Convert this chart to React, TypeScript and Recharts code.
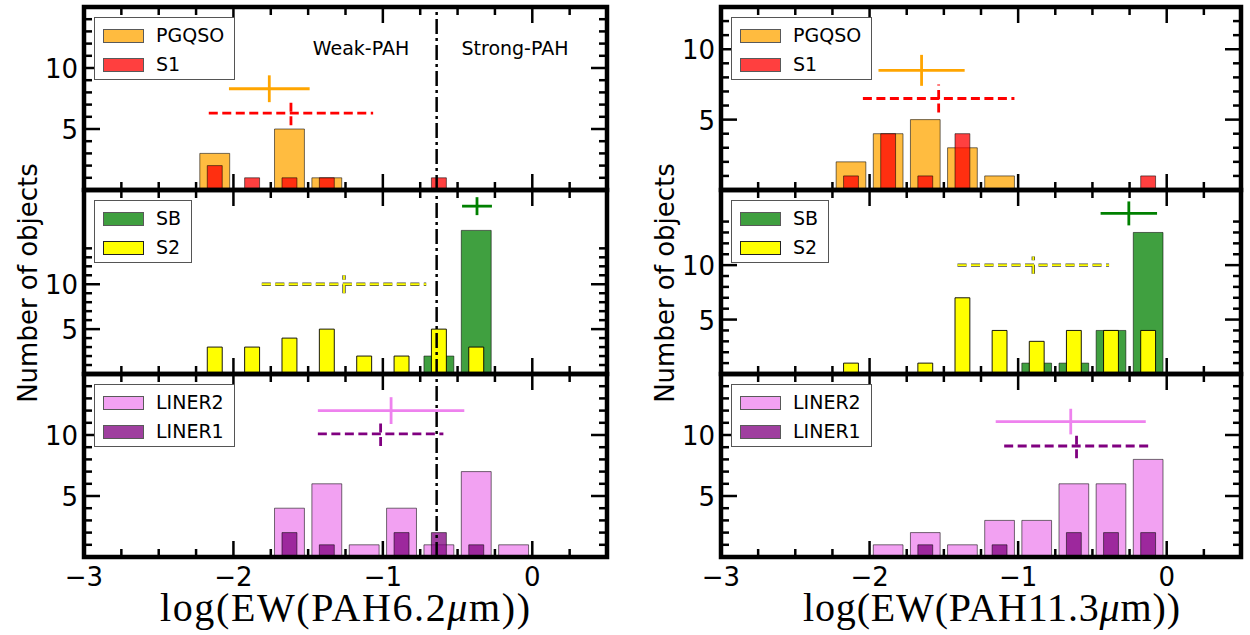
import React from 'react';
import { ComposedChart, XAxis, YAxis, ReferenceArea, ReferenceLine } from 'recharts';

// histogram bin centres, log(EW)
const binCenters = [-2.125, -1.875, -1.625, -1.375, -1.125, -0.875, -0.625, -0.375, -0.125];

// PAH 6.2um counts per bin
const pgqso62 = [3, 0, 5, 1, 0, 0, 0, 0, 0];
const s1_62 = [2, 1, 1, 1, 0, 0, 1, 0, 0];
const sb62 = [0, 0, 0, 0, 0, 0, 2, 16, 0];
const s2_62 = [3, 3, 4, 5, 2, 2, 5, 3, 0];
const liner2_62 = [0, 0, 4, 6, 1, 4, 1, 7, 1];
const liner1_62 = [0, 0, 2, 1, 0, 2, 2, 1, 0];

// PAH 11.3um counts per bin
const pgqso113 = [2, 4, 5, 3, 1, 0, 0, 0, 0];
const s1_113 = [1, 4, 1, 4, 0, 0, 0, 0, 1];
const sb113 = [0, 0, 0, 0, 0, 1, 1, 4, 13];
const s2_113 = [1, 0, 1, 7, 4, 3, 4, 4, 4];
const liner2_113 = [0, 1, 2, 1, 3, 3, 6, 6, 8];
const liner1_113 = [0, 0, 1, 0, 1, 0, 2, 2, 2];

// mean +- spread markers: [x, xErr, y, yErr]
const meanPgqso62 = [-1.76, 0.27, 8.3, 1.1];
const meanS1_62 = [-1.615, 0.55, 6.3, 1.0];
const meanSb62 = [-0.37, 0.1, 18.7, 1.0];
const meanS2_62 = [-1.26, 0.55, 10, 1.0];
const meanLiner2_62 = [-0.945, 0.49, 12.0, 1.1];
const meanLiner1_62 = [-1.015, 0.42, 10.1, 1.0];

const meanPgqso113 = [-1.65, 0.29, 8.5, 1.1];
const meanS1_113 = [-1.535, 0.51, 6.5, 1.0];
const meanSb113 = [-0.255, 0.19, 14.75, 1.1];
const meanS2_113 = [-0.898, 0.51, 10, 0.8];
const meanLiner2_113 = [-0.646, 0.505, 11.1, 1.05];
const meanLiner1_113 = [-0.607, 0.487, 9.1, 1.0];

const weakStrongCut = -0.64;

const xDomain = [-3, 0.5];
const xTicks = [-3, -2.75, -2.5, -2.25, -2, -1.75, -1.5, -1.25, -1, -0.75, -0.5, -0.25, 0, 0.25];
const xLabelTicks = [-3, -2, -1, 0];
const yLabelTicks = [5, 10];
const yMinorTicks = [1, 2, 3, 4, 5, 6, 7, 8, 9, 10, 11, 12, 13, 14];

const SANS = '"DejaVu Sans", sans-serif';

type Series = { name: string; values: number[]; color: string; opacity: number; width: number };
type Mean = { v: number[]; color: string; dashed?: boolean; outline?: boolean };

// tick drawn inward on the axis side, mirrored on the opposite frame side
function renderTick(p: any, side: 'left' | 'bottom', showLabel: boolean, span: number) {
  const value = p.payload.value;
  const major = side === 'left' ? yLabelTicks.includes(value) : xLabelTicks.includes(value);
  const len = major ? 16 : 8;
  const { x, y } = p;
  const sw = 2.5;
  let lines;
  if (side === 'left') {
    lines = (
      <>
        <line x1={x} y1={y} x2={x + len} y2={y} stroke="#000" strokeWidth={sw} />
        <line x1={x + span} y1={y} x2={x + span - len} y2={y} stroke="#000" strokeWidth={sw} />
      </>
    );
  } else {
    lines = (
      <>
        <line x1={x} y1={y} x2={x} y2={y - len} stroke="#000" strokeWidth={sw} />
        <line x1={x} y1={y - span} x2={x} y2={y - span + len} stroke="#000" strokeWidth={sw} />
      </>
    );
  }
  let label = null;
  if (showLabel && major) {
    const txt = value < 0 ? '\u2212' + Math.abs(value) : String(value);
    label = side === 'left'
      ? <text x={x - 6} y={y + 1} textAnchor="end" dominantBaseline="central" fontSize={26} fontFamily={SANS} fill="#000">{txt}</text>
      : <text x={x} y={y + 20} textAnchor="middle" dominantBaseline="central" fontSize={26} fontFamily={SANS} fill="#000">{txt}</text>;
  }
  return (
    <g>
      {lines}
      {label}
    </g>
  );
}

function Legend({ items }: { items: Series[] }) {
  return (
    <div style={{ position: 'absolute', left: 10, top: 10, background: '#fff', border: '1px solid #555', boxSizing: 'border-box', height: 63, padding: '3px 10px 0 8px' }}>
      {items.map((s) => (
        <div key={s.name} style={{ display: 'flex', alignItems: 'center', height: 29 }}>
          <div style={{ width: 41, height: 14, background: s.color, opacity: s.opacity, border: '1px solid #222', boxSizing: 'border-box' }} />
          <span style={{ marginLeft: 12, fontFamily: SANS, fontSize: 19, lineHeight: 1, color: '#000' }}>{s.name}</span>
        </div>
      ))}
    </div>
  );
}

function Panel(props: {
  left: number; top: number; width: number; height: number; yMax: number;
  wide: Series; narrow: Series; means: Mean[]; cut?: boolean; bottom?: boolean;
  notes?: { text: string; x: number; y: number }[];
}) {
  const { left, top, width, height, yMax, wide, narrow, means, cut, bottom, notes } = props;
  const ml = 60, mr = 12, mt = 12, mb = bottom ? 46 : 12;
  const yTicks = yMinorTicks.filter((t) => t < yMax - 0.5);
  const rows = binCenters.map((x) => ({ x }));

  const bars = (s: Series) =>
    binCenters.map((c, i) =>
      s.values[i] > 0 ? (
        <ReferenceArea
          key={s.name + i}
          x1={c - s.width / 2}
          x2={c + s.width / 2}
          y1={0}
          y2={s.values[i]}
          fill={s.color}
          fillOpacity={s.opacity}
          stroke="#000"
          strokeOpacity={s.opacity < 1 ? 0.55 : 0.9}
          strokeWidth={1}
          ifOverflow="visible"
        />
      ) : null
    );

  const meanLines = (m: Mean, k: number) => {
    const [x, xe, y, ye] = m.v;
    const h = [{ x: x - xe, y }, { x: x + xe, y }];
    const v = [{ x, y: y - ye }, { x, y: y + ye }];
    const dash = m.dashed ? '9 4.5' : undefined;
    const out: any[] = [];
    if (m.outline) {
      out.push(<ReferenceLine key={'ho' + k} segment={h} stroke="#444" strokeWidth={3.4} strokeDasharray={dash} ifOverflow="visible" />);
      out.push(<ReferenceLine key={'vo' + k} segment={v} stroke="#444" strokeWidth={3.4} strokeDasharray={dash} ifOverflow="visible" />);
    }
    const w = m.outline ? 1.8 : 2.8;
    out.push(<ReferenceLine key={'h' + k} segment={h} stroke={m.color} strokeWidth={w} strokeDasharray={dash} ifOverflow="visible" />);
    out.push(<ReferenceLine key={'v' + k} segment={v} stroke={m.color} strokeWidth={w} strokeDasharray={dash} ifOverflow="visible" />);
    return out;
  };

  return (
    <div style={{ position: 'absolute', left: left - ml, top: top - mt, width: width + ml + mr, height: height + mt + mb }}>
      <ComposedChart width={width + ml + mr} height={height + mt + mb} data={rows} margin={{ top: mt, right: mr, bottom: 0, left: 0 }}>
        <XAxis type="number" dataKey="x" domain={xDomain} allowDataOverflow ticks={xTicks} interval={0} height={mb}
          tickSize={0} tickMargin={0} tickLine={false} axisLine={false} tick={(p: any) => renderTick(p, 'bottom', !!bottom, height)} />
        <YAxis type="number" domain={[0, yMax]} allowDataOverflow ticks={yTicks} interval={0} width={ml}
          tickSize={0} tickMargin={0} tickLine={false} axisLine={false} tick={(p: any) => renderTick(p, 'left', true, width)} />
        {bars(wide)}
        {bars(narrow)}
        {cut ? <ReferenceLine x={weakStrongCut} stroke="#000" strokeWidth={2.5} strokeDasharray="15 4 3 4" /> : null}
        {means.map((m, k) => meanLines(m, k))}
        <ReferenceArea x1={xDomain[0]} x2={xDomain[1]} y1={0} y2={yMax} fill="none" fillOpacity={0} stroke="#000" strokeWidth={4.5} ifOverflow="visible" />
      </ComposedChart>
      <div style={{ position: 'absolute', left: ml, top: mt, width: 0, height: 0 }}>
        <Legend items={[wide, narrow]} />
        {(notes || []).map((n) => (
          <div key={n.text} style={{ position: 'absolute', left: n.x, top: n.y, transform: 'translate(-50%, -50%)', fontFamily: SANS, fontSize: 19, whiteSpace: 'nowrap', color: '#000' }}>{n.text}</div>
        ))}
      </div>
    </div>
  );
}

const wideW = 0.2;
const narrowW = 0.1;

export default function App() {
  const L = 84, LW = 523, R = 721, RW = 520;
  const tops = [7, 190, 374];
  const hs = [183, 184, 183];
  const pg = (v: number[]): Series => ({ name: 'PGQSO', values: v, color: 'orange', opacity: 0.75, width: wideW });
  const s1 = (v: number[]): Series => ({ name: 'S1', values: v, color: 'red', opacity: 0.75, width: narrowW });
  const sb = (v: number[]): Series => ({ name: 'SB', values: v, color: 'green', opacity: 0.75, width: wideW });
  const s2 = (v: number[]): Series => ({ name: 'S2', values: v, color: 'yellow', opacity: 1, width: narrowW });
  const l2 = (v: number[]): Series => ({ name: 'LINER2', values: v, color: 'violet', opacity: 0.75, width: wideW });
  const l1 = (v: number[]): Series => ({ name: 'LINER1', values: v, color: 'purple', opacity: 0.75, width: narrowW });

  return (
    <div style={{ position: 'absolute', left: 0, top: 0, width: 1250, height: 635, background: '#fff', overflow: 'hidden' }}>
      <Panel left={L} top={tops[0]} width={LW} height={hs[0]} yMax={15} wide={pg(pgqso62)} narrow={s1(s1_62)} cut
        means={[{ v: meanPgqso62, color: 'orange' }, { v: meanS1_62, color: 'red', dashed: true }]}
        notes={[{ text: 'Weak-PAH', x: 277, y: 41 }, { text: 'Strong-PAH', x: 431, y: 41 }]} />
      <Panel left={L} top={tops[1]} width={LW} height={hs[1]} yMax={20.5} wide={sb(sb62)} narrow={s2(s2_62)} cut
        means={[{ v: meanSb62, color: 'green' }, { v: meanS2_62, color: 'yellow', dashed: true, outline: true }]} />
      <Panel left={L} top={tops[2]} width={LW} height={hs[2]} yMax={15} wide={l2(liner2_62)} narrow={l1(liner1_62)} cut bottom
        means={[{ v: meanLiner2_62, color: 'violet' }, { v: meanLiner1_62, color: 'purple', dashed: true }]} />

      <Panel left={R} top={tops[0]} width={RW} height={hs[0]} yMax={13} wide={pg(pgqso113)} narrow={s1(s1_113)}
        means={[{ v: meanPgqso113, color: 'orange' }, { v: meanS1_113, color: 'red', dashed: true }]} />
      <Panel left={R} top={tops[1]} width={RW} height={hs[1]} yMax={16.9} wide={sb(sb113)} narrow={s2(s2_113)}
        means={[{ v: meanSb113, color: 'green' }, { v: meanS2_113, color: 'yellow', dashed: true, outline: true }]} />
      <Panel left={R} top={tops[2]} width={RW} height={hs[2]} yMax={15} wide={l2(liner2_113)} narrow={l1(liner1_113)} bottom
        means={[{ v: meanLiner2_113, color: 'violet' }, { v: meanLiner1_113, color: 'purple', dashed: true }]} />

      <svg width={1250} height={635} style={{ position: 'absolute', left: 0, top: 0, pointerEvents: 'none' }}>
        <text transform="translate(28,283) rotate(-90)" textAnchor="middle" dominantBaseline="central" fontSize={26} fontFamily={SANS}>Number of objects</text>
        <text transform="translate(665,283) rotate(-90)" textAnchor="middle" dominantBaseline="central" fontSize={26} fontFamily={SANS}>Number of objects</text>
        <text x={160} y={621} fontSize={40} fontFamily='"Liberation Serif", serif' textLength={370} lengthAdjust="spacing">
          log(EW(PAH6.2<tspan fontStyle="italic">μ</tspan>m))
        </text>
        <text x={803} y={621} fontSize={40} fontFamily='"Liberation Serif", serif' textLength={377} lengthAdjust="spacing">
          log(EW(PAH11.3<tspan fontStyle="italic">μ</tspan>m))
        </text>
      </svg>
    </div>
  );
}
